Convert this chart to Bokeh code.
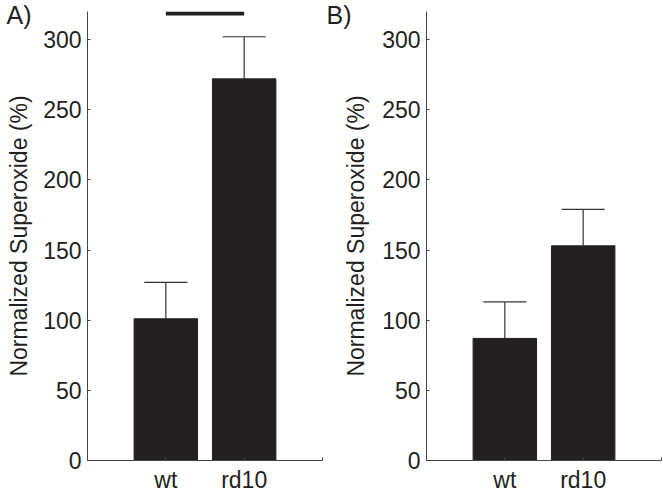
from bokeh.plotting import figure
from bokeh.layouts import row
from bokeh.models import Range1d, FixedTicker, LinearAxis
from bokeh.embed import file_html
from bokeh.resources import INLINE

# ---- data ----
groups = ["wt", "rd10"]
group_pos = [1, 2]
a_mean = [101, 272]
a_err = [26, 30]
b_mean = [87, 153]
b_err = [26, 26]
a_sig = [1, 2, 318.5]  # significance bar from group 1 to group 2 at this level
y_ticks = [0, 50, 100, 150, 200, 250, 300]
y_label = "Normalized Superoxide (%)"

DARK = "#231f20"
FONT = "Liberation Sans"
FS = "23px"
H = 495


def panel(mean, err, width, left, right, tag, tag_standoff, label_standoff):
    p = figure(width=width, height=H, output_backend="svg", toolbar_location=None,
               x_range=Range1d(0, 3), y_range=Range1d(0, 320),
               min_border_left=left, min_border_right=right,
               min_border_top=11, min_border_bottom=33)
    p.outline_line_color = None
    p.grid.visible = False
    p.background_fill_color = "white"
    p.border_fill_color = "white"

    p.vbar(x=group_pos, top=mean, width=0.81, fill_color=DARK, line_color=DARK)
    upper = [m + e for m, e in zip(mean, err)]
    p.segment(x0=group_pos, y0=mean, x1=group_pos, y1=upper, line_color="#333333", line_width=1.2)
    p.segment(x0=[x - 0.275 for x in group_pos], y0=upper,
              x1=[x + 0.275 for x in group_pos], y1=upper, line_color="#333333", line_width=1.2)

    ya = p.yaxis[0]
    ya.ticker = FixedTicker(ticks=y_ticks)
    ya.major_tick_in = 3
    ya.major_tick_out = 0
    ya.minor_tick_line_color = None
    ya.axis_line_color = "#444444"
    ya.major_tick_line_color = "#444444"
    ya.major_label_text_font = FONT
    ya.major_label_text_font_size = FS
    ya.major_label_text_color = DARK
    ya.major_label_standoff = 6
    ya.axis_label = y_label
    ya.axis_label_text_font = FONT
    ya.axis_label_text_font_size = FS
    ya.axis_label_text_font_style = "normal"
    ya.axis_label_text_color = DARK
    ya.axis_label_standoff = label_standoff

    xa = p.xaxis[0]
    xa.ticker = FixedTicker(ticks=group_pos + [3])
    xa.major_label_overrides = {1: groups[0], 2: groups[1], 3: ""}
    xa.major_tick_in = 3
    xa.major_tick_out = 0
    xa.minor_tick_line_color = None
    xa.axis_line_color = "#444444"
    xa.major_tick_line_color = "#444444"
    xa.major_label_text_font = FONT
    xa.major_label_text_font_size = FS
    xa.major_label_text_color = DARK
    xa.major_label_standoff = 6

    # panel tag ("A)" / "B)") as the single label of an extra, line-less left axis
    p.extra_y_ranges = {"tag": Range1d(0, 1)}
    tag_axis = LinearAxis(y_range_name="tag", ticker=FixedTicker(ticks=[0.995]),
                          major_label_overrides={0.995: tag},
                          axis_line_color=None, major_tick_line_color=None,
                          major_tick_in=0, major_tick_out=0,
                          minor_tick_line_color=None,
                          major_label_text_font=FONT, major_label_text_font_size="25px",
                          major_label_text_color=DARK, major_label_standoff=tag_standoff)
    p.add_layout(tag_axis, "left")
    return p


pa = panel(a_mean, a_err, 323, 87, 1, "A)", -28, 8)
pa.line(x=a_sig[:2], y=[a_sig[2], a_sig[2]], line_color=DARK, line_width=4)

pb = panel(b_mean, b_err, 340, 103, 2, "B)", -11, 10)

layout = row(pa, pb, spacing=0)
open("out.html", "w").write(file_html(layout, INLINE))
